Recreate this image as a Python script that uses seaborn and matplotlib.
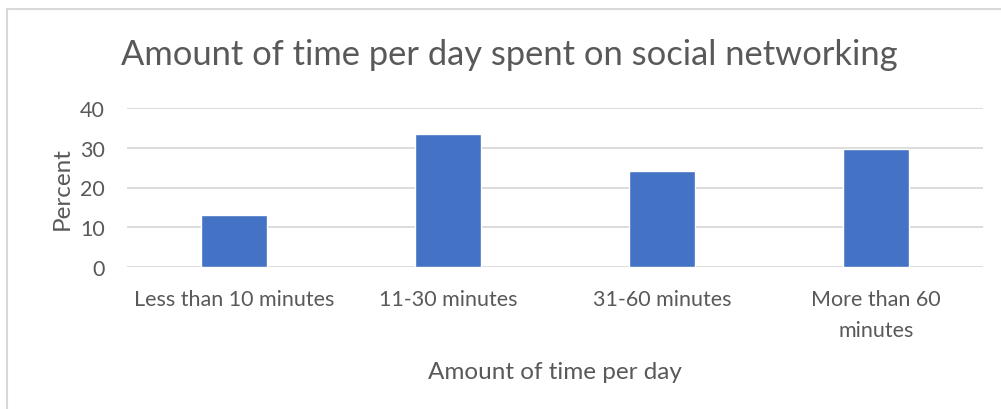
import matplotlib
matplotlib.use("Agg")
import matplotlib.pyplot as plt
import seaborn as sns
import pandas as pd
from matplotlib.patches import Rectangle

categories = ["Less than 10 minutes", "11-30 minutes", "31-60 minutes", "More than 60\nminutes"]
percent = [13.0, 33.4, 24.1, 29.7]
y_ticks = [0, 10, 20, 30, 40]

title = "Amount of time per day spent on social networking"
x_label = "Amount of time per day"
y_label = "Percent"

sns.set_theme(style="white")
plt.rcParams["font.family"] = ["Lato", "DejaVu Sans"]

text_color = "#595959"
grid_color = "#D9D9D9"
bar_color = "#4472C4"

df = pd.DataFrame({"category": categories, "percent": percent})

fig = plt.figure(figsize=(10.01, 4.10), dpi=100)
fig.patch.set_facecolor("white")
ax = fig.add_axes([127 / 1001, 142 / 410, 856 / 1001, 159 / 410])

sns.barplot(data=df, x="category", y="percent", color=bar_color, width=0.313,
            saturation=1, ax=ax, zorder=3)

ax.set_ylim(0, 40)
ax.set_yticks(y_ticks)
ax.set_xlim(-0.5, len(categories) - 0.5)
for t in y_ticks:
    ax.axhline(t, color=grid_color, lw=1.3, zorder=1)
for s in ax.spines.values():
    s.set_visible(False)
ax.tick_params(axis="both", length=0, colors=text_color, labelsize=15.5)
ax.tick_params(axis="y", pad=16)
ax.tick_params(axis="x", pad=15.5)
for lbl in ax.get_xticklabels():
    lbl.set_linespacing(1.7)
ax.set_xlabel(x_label, fontsize=17.5, color=text_color, labelpad=15)
ax.set_ylabel(y_label, fontsize=17.5, color=text_color, labelpad=5)

fig.text(509 / 1001, 1 - 55 / 410, title, ha="center", va="center",
         fontsize=24.8, color=text_color)

# chart area outline
fig.patches.append(Rectangle((7 / 1001, -0.1), 1.2, 1 - 10 / 410 + 0.1,
                             transform=fig.transFigure, fill=False,
                             edgecolor=grid_color, lw=1.5))

fig.savefig("out.png", dpi=100)
